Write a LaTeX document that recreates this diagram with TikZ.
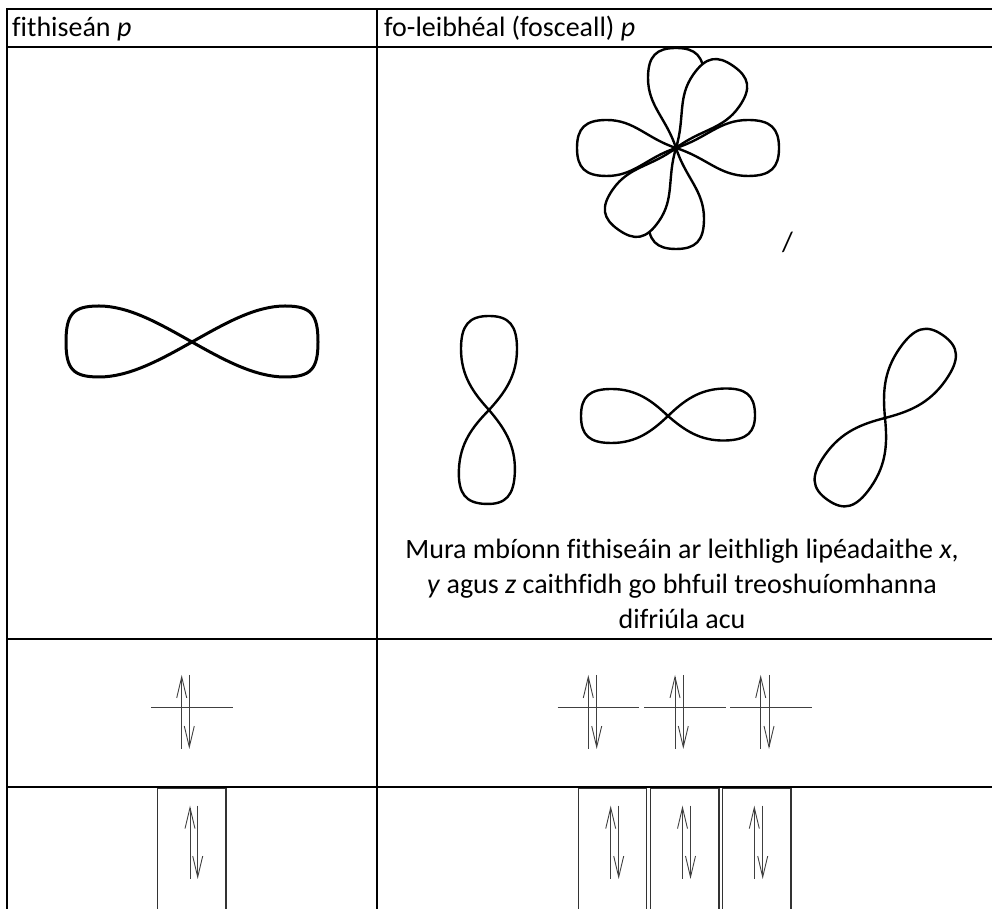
\documentclass[tikz,border=0pt]{standalone}
\usepackage{fontspec}
\setmainfont{Carlito}[Ligatures={NoCommon}]
\usetikzlibrary{arrows.meta}
\newcommand\orblobe[6]{%
  \begin{scope}[shift={(#2,#3)},rotate=#4,xscale=#5,yscale=#6]
    \path[#1] (0,0) .. controls (0.18,0.55) and (0.36,1) .. (0.65,1)
      .. controls (0.9,1) and (1,0.72) .. (1,0)
      .. controls (1,-0.72) and (0.9,-1) .. (0.65,-1)
      .. controls (0.36,-1) and (0.18,-0.55) .. (0,0) -- cycle;
  \end{scope}}
\newcommand\orbpetal[6]{%
  \begin{scope}[shift={(#2,#3)},rotate=#4,xscale=#5,yscale=#6]
    \path[#1] (0,0) .. controls (0.3,0.35) and (0.42,1) .. (0.7,1)
      .. controls (0.92,1) and (1,0.7) .. (1,0)
      .. controls (1,-0.7) and (0.92,-1) .. (0.7,-1)
      .. controls (0.42,-1) and (0.3,-0.35) .. (0,0) -- cycle;
  \end{scope}}
\begin{document}
\begin{tikzpicture}[x=1pt,y=1pt,
  grid/.style={line width=1.6pt,black},
  lobeline/.style={draw=black,line width=2.4pt,line join=round},
  petalline/.style={draw=black,fill=white,line width=2.4pt,line join=round},
  thicklobe/.style={line width=3pt,black,line join=round},
  level/.style={line width=1pt,black!75},
  spinup/.style={line width=0.9pt,black!75,-{Straight Barb[length=21pt,width=10pt]}},
  spinbox/.style={line width=1.1pt,black!80},
  txt/.style={inner sep=0pt,font=\fontsize{28}{34.5}\selectfont}]
\useasboundingbox (0,0) rectangle (992,909);
% table grid
\draw[grid] (7,900) -- (992,900);
\draw[grid] (7,862) -- (992,862);
\draw[grid] (7,270) -- (992,270);
\draw[grid] (7,122) -- (992,122);
\draw[grid] (7,900.8) -- (7,-2);
\draw[grid] (377,900.8) -- (377,-2);
% headers
\node[txt,anchor=base west] (h1) at (12,872) {fithiseán \textit{p}};
\node[txt,anchor=base west] (h2) at (384,872) {fo-leibhéal (fosceall) \textit{p}};
% left lemniscate
\draw[thicklobe] (192,567) .. controls (224,585) and (255,603) .. (285,603)
  .. controls (311,603) and (318,595) .. (318,567)
  .. controls (318,540) and (311,532) .. (285,532)
  .. controls (255,532) and (224,549) .. (192,567)
  .. controls (160,585) and (129,603) .. (99,603)
  .. controls (73,603) and (66,595) .. (66,567)
  .. controls (66,540) and (73,532) .. (99,532)
  .. controls (129,532) and (160,549) .. (192,567) -- cycle;
% flower of six petals (diagonal pair drawn on top)
\orbpetal{petalline}{676}{761}{0}{103}{28}
\orbpetal{petalline}{676}{761}{180}{99}{28}
\orbpetal{petalline}{676}{761}{90}{100}{28}
\orbpetal{petalline}{676}{761}{270}{101}{28}
\orbpetal{petalline}{676}{761}{55}{100}{28}
\orbpetal{petalline}{676}{761}{235}{100}{28}
\node[txt,anchor=base] (sl) at (787.5,657) {/};
% three p orbitals
\orblobe{lobeline}{489}{499}{90}{94}{28}
\orblobe{lobeline}{489}{499}{268}{94}{28}
\orblobe{lobeline}{668}{493}{180}{87}{27}
\orblobe{lobeline}{668}{493}{1.5}{87}{26}
\orblobe{lobeline}{885}{491}{55}{101}{28}
\orblobe{lobeline}{885}{491}{235}{100}{28}
% paragraph
\node[txt,anchor=base] (p1) at (682,350) {Mura mbíonn fithiseáin ar leithligh lipéadaithe \textit{x},};
\node[txt,anchor=base] (p2) at (682,315) {\textit{y} agus \textit{z} caithfidh go bhfuil treoshuíomhanna};
\node[txt,anchor=base] (p3) at (682,280) {difriúla acu};
% energy levels
\foreach \a/\b/\u/\d in {151/233/181.7/189.3, 557.7/639.3/588.3/596.7, 644/725.7/675/683.3, 730/811.7/760.7/769}{
  \draw[level] (\a,201) -- (\b,201);
  \draw[spinup] (\u,160) -- (\u,234);
  \draw[spinup] (\d,234) -- (\d,160);
}
% boxes
\foreach \a/\b/\u/\d in {157.7/226/190/197.7, 578.3/646.7/610.7/618.7, 650.7/719/682.5/690.5, 722.3/791/754.3/762.7}{
  \draw[spinbox] (\a,-3) -- (\a,120.7) -- (\b,120.7) -- (\b,-3);
  \draw[spinup] (\u,30) -- (\u,103.3);
  \draw[spinup] (\d,103.3) -- (\d,30);
}
\end{tikzpicture}
\end{document}
